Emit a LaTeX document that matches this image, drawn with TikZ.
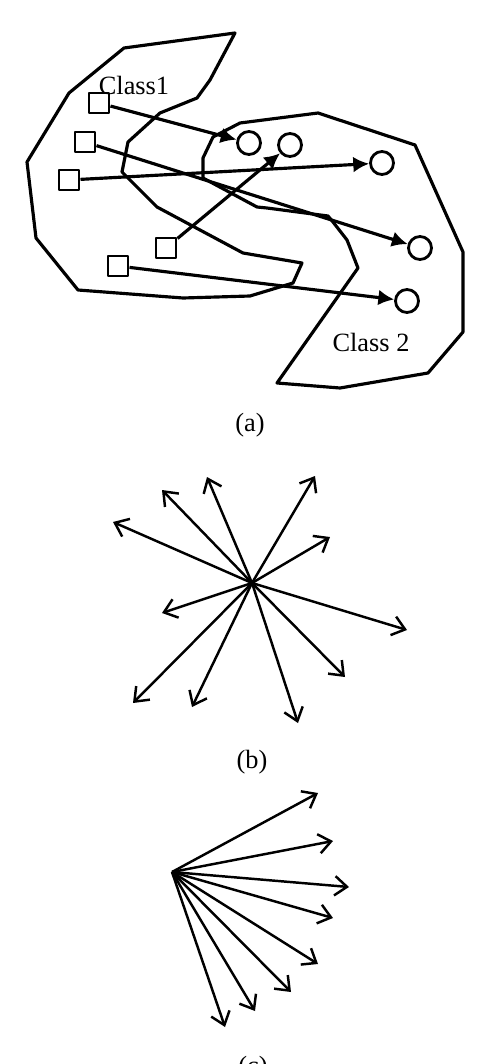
\documentclass[tikz,border=0pt]{standalone}
\usepackage{fontspec}
\setmainfont{Liberation Serif}
\usepackage{tikz}
\usetikzlibrary{arrows.meta}
\tikzset{>=latex}
\tikzset{sample/.style = {shape=rectangle,draw,line width=1.7pt,minimum size=0.4cm,inner sep=0pt}}
\tikzset{proto/.style = {shape=circle,draw,line width=1.6pt,minimum size=0.46cm,inner sep=0pt}}
\tikzset{diff/.style = {-{Latex[length=9pt,width=9pt]},line width=1.8pt}}
\tikzset{vec/.style = {-{Straight Barb[length=7pt,width=11pt,line width=1.4pt]},line width=1.4pt}}

\begin{document}
\begin{tikzpicture}[x=0.02cm,y=-0.02cm,line join=round,font=\fontsize{15}{18}\selectfont]
                    \useasboundingbox (0,0) rectangle (496,1064);

                    % (a) two class regions
                    \draw[line width=1.8pt] (235,33) -- (124,48) -- (69,93) -- (27,162) -- (36,238)
                      -- (78,290) -- (183,298) -- (250,296) -- (293,283) -- (302,263) -- (243,253)
                      -- (157,207) -- (122,172) -- (128,142) -- (160,113) -- (197,98) -- (210,80) -- cycle;
                    \draw[line width=1.8pt] (318,113) -- (240,123) -- (213,137) -- (203,158) -- (203,178)
                      -- (257,207) -- (267,208) -- (328,216) -- (333,222) -- (347,240) -- (358,268)
                      -- (277,383) -- (340,388) -- (428,373) -- (463,332) -- (463,252) -- (415,145) -- cycle;
                    \node at (134,85) {Class1};
                    \node at (371,342) {Class 2};

                    \foreach \x/\y [count=\i] in {99/103, 85/142, 69/180, 166/248, 118/266} {
                      \node[sample] (s\i) at (\x,\y) {};
                    }
                    \foreach \x/\y [count=\i] in {249/143, 290/145, 382/163, 420/248, 407/301} {
                      \node[proto] (c\i) at (\x,\y) {};
                    }
                    \draw[diff] (s1) -- (c1);
                    \draw[diff] (s2) -- (c4);
                    \draw[diff] (s3) -- (c3);
                    \draw[diff] (s4) -- (c2);
                    \draw[diff] (s5) -- (c5);
                    \node (la) at (250,425) {(a)};

                    % (b) difference vectors, all directions
                    \coordinate (o) at (252,583);
                    \foreach \x/\y [count=\i] in {113/522, 162/490, 207/477, 315/476, 330/537, 407/630,
                                                  345/677, 298/723, 192/707, 133/703, 162/613} {
                      \coordinate (p\i) at (\x,\y);
                      \draw[vec] (o) -- (p\i);
                    }
                    \node (lb) at (252,762) {(b)};

                    % (c) difference vectors, one side
                    \coordinate (q) at (172,872);
                    \foreach \x/\y [count=\i] in {318/793, 333/841, 349/887, 333/918, 318/964,
                                                  291/992, 255/1011, 225/1027} {
                      \coordinate (r\i) at (\x,\y);
                      \draw[vec] (q) -- (r\i);
                    }
                    \node (lc) at (253,1068) {(c)};
                  \end{tikzpicture}
\end{document}
